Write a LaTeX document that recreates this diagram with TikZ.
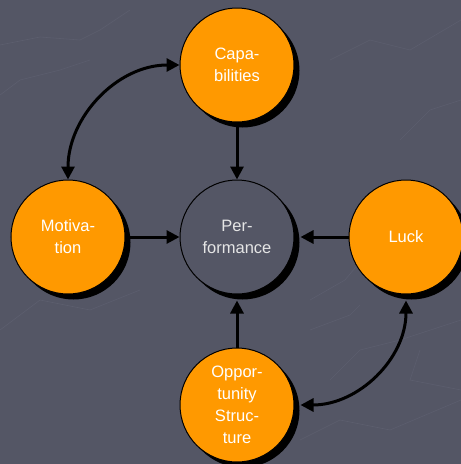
\documentclass[tikz,border=0pt]{standalone}
\usepackage{fontspec}
\setmainfont{Liberation Sans}
\usetikzlibrary{arrows.meta,shadows,calc}
\definecolor{bgc}{RGB}{84,86,101}
\definecolor{orng}{RGB}{255,153,0}
\definecolor{tex}{RGB}{92,94,110}
\tikzset{
  ball/.style={circle, draw=black, line width=1pt, minimum size=114pt, inner sep=0pt,
    align=center, font=\fontsize{16.5}{22}\selectfont,
    drop shadow={shadow xshift=5.5pt, shadow yshift=-5.5pt, fill=black, opacity=1}},
  orangeball/.style={ball, fill=orng, text=white},
  darkball/.style={ball, fill=bgc, text={black!10}},
  arr/.style={line width=3pt, -{Triangle[length=13pt,width=13pt]}},
  darr/.style={line width=3pt, {Triangle[length=13pt,width=13pt]}-{Triangle[length=13pt,width=13pt]}},
  texture/.style={draw=tex, line width=0.6pt}
}
\begin{document}
\begin{tikzpicture}[x=1pt,y=-1pt]
\fill[bgc] (0,0) rectangle (461,464);
\useasboundingbox (0,0) rectangle (461,464);
% faint background texture
\draw[texture] (0,45) -- (40,37) -- (80,40) -- (100,30) -- (130,10);
\draw[texture] (0,95) -- (20,80) -- (60,70) -- (90,60);
\draw[texture] (310,300) -- (345,280) -- (370,250);
\draw[texture] (310,330) -- (350,315) -- (360,305);
\draw[texture] (330,380) -- (360,350) -- (400,340) -- (461,320);
\draw[texture] (420,350) -- (410,380) -- (461,390);
\draw[texture] (300,440) -- (340,420) -- (390,430) -- (461,400);
\draw[texture] (0,330) -- (40,300) -- (90,310) -- (140,290);
\draw[texture] (330,60) -- (370,40) -- (410,50) -- (461,20);
\draw[texture] (400,140) -- (430,110) -- (461,100);

\node[orangeball] (C) at (237,65) {Capa-\\bilities};
\node[orangeball] (M) at (68,237) {Motiva-\\tion};
\node[darkball]   (P) at (237,237) {Per-\\formance};
\node[orangeball] (L) at (406,237) {Luck};
\node[orangeball] (O) at (237,405) {Oppor-\\tunity\\Struc-\\ture};

\coordinate (Pe) at ($(P.east)+(6,0)$);
\coordinate (Ps) at ($(P.south)+(0,6)$);
\coordinate (Lb) at ($(L.south)+(0,6)$);
\coordinate (Oe) at ($(O.east)+(6,0)$);

\draw[arr] (C.south) -- (P.north);
\draw[arr] (M.east) -- (P.west);
\draw[arr] (L.west) -- (Pe);
\draw[arr] (O.north) -- (Ps);
\draw[darr] (C.west) to[out=180,in=90] (M.north);
\draw[darr] (Lb) to[out=-90,in=0] (Oe);
\end{tikzpicture}
\end{document}
